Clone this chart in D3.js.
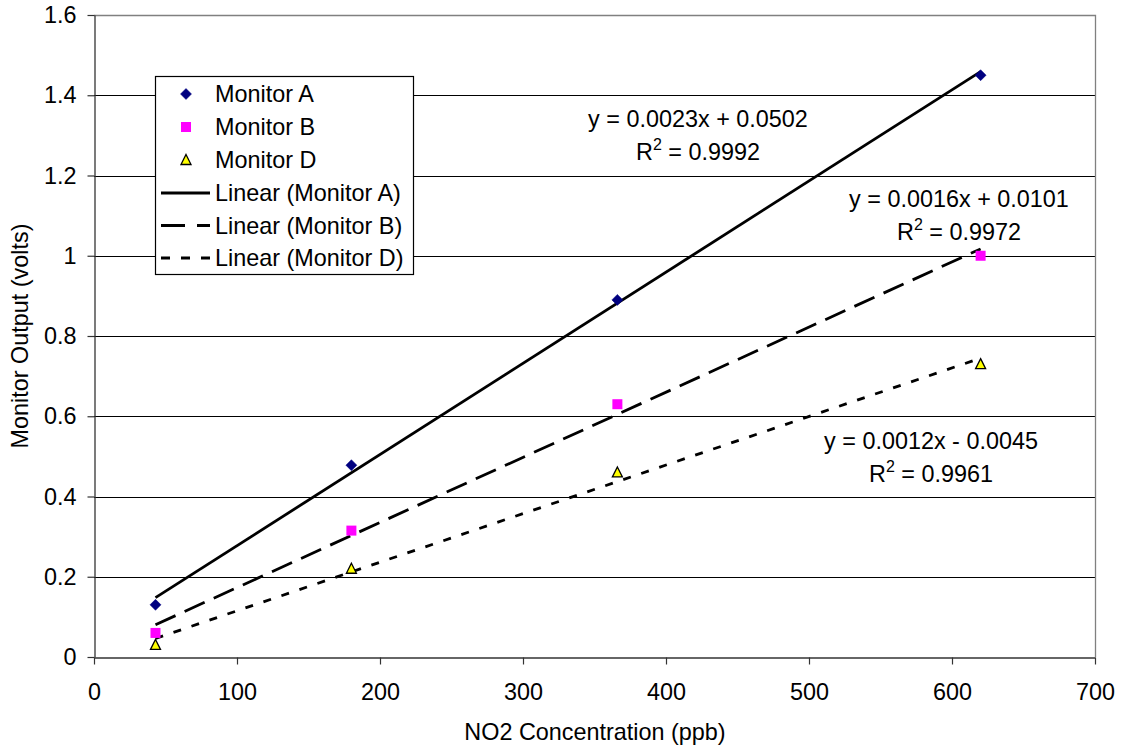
<!DOCTYPE html>
<html>
<head>
<meta charset="utf-8">
<script src="https://cdn.jsdelivr.net/npm/d3@7"></script>
<style>
  html, body { margin: 0; padding: 0; background: #fff; }
  svg { display: block; font-family: "Liberation Sans", Arial, sans-serif; }
</style>
</head>
<body>
<svg id="chart" width="1122" height="750"></svg>
<script>
// ---- data ----
const concentrations = [43, 180, 366, 620];
const monitorA = [0.13, 0.478, 0.89, 1.45];
const monitorB = [0.06, 0.315, 0.63, 1.0];
const monitorD = [0.03, 0.22, 0.46, 0.73];
const seriesNames = ["Monitor A", "Monitor B", "Monitor D"];
const trendNames = ["Linear (Monitor A)", "Linear (Monitor B)", "Linear (Monitor D)"];
const equationsText = ["y = 0.0023x + 0.0502", "y = 0.0016x + 0.0101", "y = 0.0012x - 0.0045"];
const r2Text = ["0.9992", "0.9972", "0.9961"];
const xTicks = [0, 100, 200, 300, 400, 500, 600, 700];
const yTicks = [0, 0.2, 0.4, 0.6, 0.8, 1.0, 1.2, 1.4, 1.6];
const yTickLabels = ["0", "0.2", "0.4", "0.6", "0.8", "1", "1.2", "1.4", "1.6"];
const xTitle = "NO2 Concentration (ppb)";
const yTitle = "Monitor Output (volts)";

// ---- setup ----
const svg = d3.select("#chart");
const FS = 23.4;
const pLeft = 94, pRight = 1095, pTop = 15, pBottom = 657;
const x = d3.scaleLinear().domain([0, 700]).range([pLeft, pRight]);
const y = d3.scaleLinear().domain([0, 1.6]).range([pBottom, pTop]);

svg.append("rect").attr("width", 1122).attr("height", 750).attr("fill", "#fff");

// gridlines
svg.append("g").selectAll("line")
  .data(yTicks.filter(v => v > 0 && v < 1.6))
  .join("line")
  .attr("x1", pLeft).attr("x2", pRight)
  .attr("y1", d => Math.round(y(d)) + 0.5).attr("y2", d => Math.round(y(d)) + 0.5)
  .attr("stroke", "#000").attr("stroke-width", 1);

// plot border (top + right) gray
svg.append("path")
  .attr("d", `M${pLeft},${pTop + 0.5}H${pRight + 0.5}V${pBottom}`)
  .attr("fill", "none").attr("stroke", "#808080").attr("stroke-width", 1.3);

// axes
const yAxis = d3.axisLeft(y).tickValues(yTicks).tickSize(7).tickSizeOuter(0).tickPadding(11)
  .tickFormat((d, i) => yTickLabels[i]);
const gy = svg.append("g").attr("transform", `translate(${pLeft + 0.5},0)`).call(yAxis);
const xAxis = d3.axisBottom(x).tickValues(xTicks).tickSize(7).tickSizeOuter(0).tickPadding(19)
  .tickFormat(d3.format("d"));
const gx = svg.append("g").attr("transform", `translate(0,${pBottom + 0.5})`).call(xAxis);
[gx, gy].forEach(g => {
  g.selectAll("path.domain").attr("stroke", "#333").attr("stroke-width", 1.3);
  g.selectAll(".tick line").attr("stroke", "#333").attr("stroke-width", 1.2);
  g.selectAll("text").attr("font-size", FS).attr("fill", "#000")
    .attr("font-family", "Liberation Sans, Arial, sans-serif");
});

// axis titles
svg.append("text").attr("x", 595).attr("y", 740).attr("text-anchor", "middle")
  .attr("font-size", FS).text(xTitle);
svg.append("text").attr("transform", `translate(28,${(pTop + pBottom) / 2}) rotate(-90)`)
  .attr("text-anchor", "middle").attr("font-size", FS).text(yTitle);

// regression
function linreg(xs, ys) {
  const mx = d3.mean(xs), my = d3.mean(ys);
  let sxy = 0, sxx = 0;
  xs.forEach((v, i) => { sxy += (v - mx) * (ys[i] - my); sxx += (v - mx) * (v - mx); });
  const m = sxy / sxx;
  return { m, b: my - m * mx };
}
const allSeries = [monitorA, monitorB, monitorD];
const dashes = [null, "22,10", "8,11"];
const xmin = d3.min(concentrations), xmax = d3.max(concentrations);
allSeries.forEach((ys, i) => {
  const r = linreg(concentrations, ys);
  const pts = [xmin, xmax].map(v => [x(v), y(r.m * v + r.b)]);
  svg.append("path").attr("d", d3.line()(pts))
    .attr("fill", "none").attr("stroke", "#000").attr("stroke-width", 2.8)
    .attr("stroke-dasharray", dashes[i]);
});

// markers
function drawMarker(g, type, cx, cy) {
  if (type === 0) {
    g.append("path").attr("d", `M${cx},${cy - 5.5}L${cx + 5.5},${cy}L${cx},${cy + 5.5}L${cx - 5.5},${cy}Z`)
      .attr("fill", "#000080").attr("stroke", "#000080").attr("stroke-width", 0.5);
  } else if (type === 1) {
    g.append("rect").attr("x", cx - 5).attr("y", cy - 5).attr("width", 10).attr("height", 10)
      .attr("fill", "#ff00ff");
  } else {
    g.append("path").attr("d", `M${cx},${cy - 5.5}L${cx + 5},${cy + 4.5}L${cx - 5},${cy + 4.5}Z`)
      .attr("fill", "#ffff00").attr("stroke", "#000").attr("stroke-width", 1.3);
  }
}
const mg = svg.append("g");
allSeries.forEach((ys, i) => {
  ys.forEach((v, j) => drawMarker(mg, i, x(concentrations[j]), y(v)));
});

// equations
const eqPos = [[698, 127], [959, 207], [931, 449]];
equationsText.forEach((t, i) => {
  const [ex, ey] = eqPos[i];
  svg.append("text").attr("x", ex).attr("y", ey).attr("text-anchor", "middle")
    .attr("font-size", FS).text(t);
  const r2 = svg.append("text").attr("x", ex).attr("y", ey + 32.5).attr("text-anchor", "middle")
    .attr("font-size", FS);
  r2.append("tspan").text("R");
  r2.append("tspan").attr("font-size", 16).attr("dy", -10).text("2");
  r2.append("tspan").attr("dy", 10).text(" = " + r2Text[i]);
});

// legend
const lg = svg.append("g");
lg.append("rect").attr("x", 155.5).attr("y", 76.5).attr("width", 258).attr("height", 198)
  .attr("fill", "#fff").attr("stroke", "#000").attr("stroke-width", 1.2);
const rowY = [94, 127, 160, 193, 225.5, 258];
const labels = seriesNames.concat(trendNames);
labels.forEach((t, i) => {
  const cy = rowY[i];
  if (i < 3) drawMarker(lg, i, 186, cy);
  else {
    lg.append("line").attr("x1", 161).attr("x2", 210).attr("y1", cy).attr("y2", cy)
      .attr("stroke", "#000").attr("stroke-width", 2.8)
      .attr("stroke-dasharray", i === 4 ? "24,12" : (i === 5 ? "9,11" : null));
  }
  lg.append("text").attr("x", 215).attr("y", cy + 8).attr("font-size", FS).text(t);
});
</script>
</body>
</html>
